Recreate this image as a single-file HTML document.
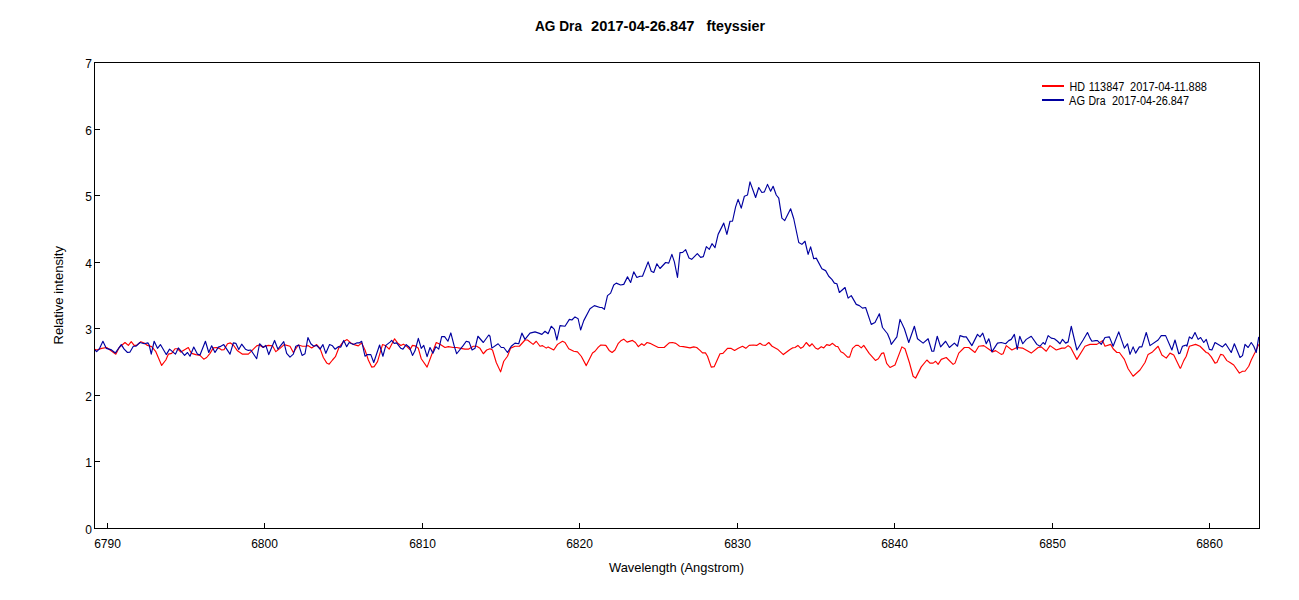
<!DOCTYPE html>
<html><head><meta charset="utf-8"><style>
html,body{margin:0;padding:0;background:#fff;}
svg{display:block;}
text{font-family:"Liberation Sans",sans-serif;font-size:12px;fill:#000;}
.ttl text{font-weight:bold;font-size:14px;}
.big{font-size:13.5px !important;}
</style></head><body>
<svg width="1299" height="600" viewBox="0 0 1299 600">
<rect width="1299" height="600" fill="#fff"/>
<g class="ttl">
<text x="535" y="31" textLength="47" lengthAdjust="spacingAndGlyphs">AG Dra</text>
<text x="591" y="31" textLength="103.5" lengthAdjust="spacingAndGlyphs">2017-04-26.847</text>
<text x="706.5" y="31" textLength="58.5" lengthAdjust="spacingAndGlyphs">fteyssier</text>
</g>
<g fill="none" stroke="#ff0000" stroke-width="1.15" stroke-linejoin="round"><path d="M95.00,349.17 L96.67,350.00 L101.67,348.33 L106.67,347.50 L110.00,350.00 L115.83,354.17 L119.17,347.50 L125.00,342.50 L128.33,345.42 L131.25,341.67 L134.17,345.42 L136.67,345.42 L140.83,341.67 L144.17,342.92 L147.50,345.42 L151.67,346.67 L155.83,351.67 L161.67,365.42 L165.83,360.00 L168.33,354.17 L171.67,353.33 L175.00,348.75 L177.50,348.75 L180.83,352.08 L184.17,350.00 L188.33,347.50 L190.00,350.83 L191.67,353.33 L195.83,354.58 L200.00,355.42 L203.75,359.17 L206.67,357.50 L210.00,353.33 L213.33,347.92 L216.67,347.50 L219.17,348.33 L221.67,350.00 L224.17,349.58 L227.50,343.75 L230.42,342.92 L233.33,345.00 L237.50,350.83 L242.50,354.17 L248.33,354.17 L251.67,350.83 L256.67,345.83 L259.17,345.00 L262.50,347.08 L268.33,345.42 L272.50,345.83 L275.83,351.67 L280.00,348.33 L284.17,344.58 L290.00,346.25 L293.33,352.50 L298.33,345.00 L302.50,346.25 L306.67,346.25 L307.92,345.42 L311.67,347.92 L314.17,346.25 L316.67,344.58 L320.00,348.33 L323.33,357.50 L326.67,362.92 L329.17,364.17 L332.50,360.00 L335.42,356.67 L339.17,347.08 L343.33,341.67 L347.08,339.58 L350.83,342.92 L354.17,344.58 L358.33,345.83 L361.67,342.92 L365.00,350.00 L368.33,360.00 L371.67,367.08 L374.17,366.67 L377.50,361.67 L382.50,344.58 L385.83,345.83 L389.17,349.17 L390.00,347.50 L394.58,338.75 L397.50,342.92 L400.83,345.42 L403.33,344.17 L406.67,346.25 L410.00,349.58 L412.50,345.42 L415.00,345.83 L418.33,348.33 L421.25,358.75 L427.08,367.08 L432.50,352.50 L436.25,342.50 L440.00,344.17 L445.00,347.50 L448.33,346.67 L453.33,347.50 L456.67,347.50 L460.83,348.33 L465.00,349.17 L468.33,349.17 L473.33,346.25 L476.67,346.25 L480.00,348.33 L483.33,353.75 L486.67,350.00 L490.00,348.75 L492.50,350.00 L496.25,362.50 L500.62,371.88 L503.75,361.25 L507.50,356.25 L510.62,348.12 L515.00,346.25 L519.38,346.25 L525.00,340.00 L527.50,340.00 L533.12,344.38 L536.25,341.25 L540.00,346.25 L542.50,345.62 L546.25,348.12 L548.12,346.88 L553.75,350.00 L557.50,344.38 L562.50,341.25 L565.00,342.50 L568.75,348.75 L573.75,351.25 L577.50,351.88 L581.25,356.25 L586.25,365.62 L590.00,357.92 L592.50,352.92 L595.00,351.25 L598.33,347.08 L600.83,345.00 L605.83,345.42 L609.17,350.42 L612.08,352.50 L615.00,350.00 L618.33,343.33 L621.25,340.42 L623.75,339.17 L627.08,342.08 L632.50,340.42 L635.42,342.50 L638.33,346.67 L641.67,343.75 L644.17,345.42 L647.08,342.50 L650.00,343.33 L653.33,345.00 L658.33,347.50 L664.17,347.50 L669.17,342.92 L672.50,342.50 L675.83,343.33 L679.58,346.25 L683.33,346.67 L690.00,347.92 L693.75,346.83 L696.67,347.50 L700.00,350.42 L702.50,352.92 L705.42,352.92 L707.50,356.25 L711.25,367.08 L714.17,366.67 L720.00,353.75 L722.92,353.33 L727.50,348.33 L730.83,348.33 L734.58,350.42 L738.33,348.33 L742.50,346.25 L745.83,348.33 L749.17,345.42 L753.33,345.00 L756.67,345.42 L760.00,343.33 L762.50,345.00 L765.42,345.42 L768.75,342.50 L772.08,346.25 L777.50,349.17 L783.33,354.58 L790.00,349.58 L792.50,347.92 L795.00,347.50 L797.92,345.42 L800.83,348.33 L803.33,346.67 L806.25,342.50 L809.58,346.25 L812.08,343.75 L815.42,347.92 L817.92,349.17 L821.25,346.67 L823.75,347.92 L826.67,344.58 L829.58,345.42 L832.50,343.33 L835.83,346.25 L837.92,346.67 L840.83,351.67 L843.75,353.33 L847.50,357.08 L849.58,357.08 L852.50,348.33 L855.83,345.42 L858.33,345.42 L861.25,347.92 L863.75,345.42 L869.17,353.33 L875.42,360.42 L878.33,358.75 L881.67,353.33 L883.75,352.92 L886.67,363.33 L890.00,367.50 L895.00,365.00 L901.88,346.88 L905.00,348.75 L909.38,362.50 L913.12,376.25 L915.62,378.12 L921.25,366.88 L926.88,360.00 L930.00,363.12 L933.12,363.12 L935.62,361.25 L938.12,364.38 L941.25,359.38 L946.25,357.50 L953.12,364.38 L955.00,363.12 L958.75,353.12 L964.38,347.50 L968.75,347.50 L975.00,352.50 L978.75,346.25 L983.75,345.62 L990.00,350.00 L992.50,351.88 L995.62,350.62 L1001.25,354.38 L1003.12,353.75 L1006.25,345.62 L1011.88,350.00 L1016.88,347.50 L1022.50,348.12 L1031.25,353.12 L1038.12,347.50 L1041.25,346.88 L1046.25,351.25 L1050.00,345.62 L1056.25,350.00 L1061.88,348.12 L1065.00,348.12 L1068.12,345.62 L1070.62,347.50 L1076.88,359.38 L1085.00,346.25 L1090.00,344.38 L1096.88,344.38 L1102.50,340.62 L1105.00,346.25 L1110.62,344.38 L1113.12,348.75 L1116.88,352.50 L1119.38,352.50 L1124.38,359.38 L1128.12,368.75 L1133.12,376.25 L1140.00,370.00 L1145.00,362.50 L1148.12,354.38 L1152.50,351.88 L1158.12,346.25 L1161.88,355.00 L1166.25,358.12 L1170.00,353.12 L1173.75,355.00 L1180.00,368.12 L1180.62,368.12 L1183.75,360.62 L1186.25,356.25 L1189.38,346.25 L1195.62,344.38 L1200.00,346.25 L1206.25,352.50 L1208.12,353.12 L1211.25,356.88 L1215.00,363.12 L1216.88,362.50 L1220.62,354.38 L1223.12,355.00 L1226.88,360.62 L1230.00,362.50 L1233.75,365.00 L1239.38,373.12 L1242.50,371.25 L1245.00,371.25 L1248.75,366.25 L1251.25,360.00 L1255.00,352.50 L1258.75,344.38"/></g>
<g fill="none" stroke="#0000a0" stroke-width="1.15" stroke-linejoin="round"><path d="M95.00,350.00 L96.67,351.67 L99.17,349.17 L102.92,341.25 L106.25,348.33 L110.83,349.58 L115.42,352.92 L121.25,344.58 L124.17,349.17 L127.50,352.50 L130.00,352.08 L133.33,346.25 L135.83,346.25 L140.00,342.50 L144.17,343.75 L147.92,342.92 L149.17,345.00 L151.25,354.17 L154.17,341.25 L157.50,348.33 L160.42,344.58 L166.25,354.58 L169.58,349.17 L175.42,354.17 L178.33,347.92 L184.58,355.42 L187.50,352.50 L190.00,356.25 L193.75,347.08 L197.50,354.17 L200.00,355.00 L205.42,341.25 L208.75,352.50 L211.67,345.83 L215.00,352.50 L218.33,347.08 L220.00,346.67 L223.75,344.58 L230.00,354.17 L233.33,342.92 L235.83,343.33 L238.75,349.58 L241.67,344.17 L245.42,349.17 L248.33,350.42 L250.83,350.00 L256.67,358.75 L259.58,343.75 L263.33,347.50 L265.83,345.42 L268.75,354.58 L274.58,340.42 L277.92,349.17 L283.75,341.67 L286.67,353.33 L290.00,357.08 L293.33,354.17 L295.83,346.25 L298.75,345.00 L302.08,355.42 L305.00,353.75 L307.92,337.50 L310.83,343.75 L313.75,346.25 L316.67,345.42 L320.00,349.17 L322.92,344.58 L325.83,353.33 L329.58,344.58 L332.50,345.83 L335.00,349.17 L338.33,346.67 L340.83,347.08 L343.75,340.42 L346.67,346.67 L349.17,342.50 L353.33,344.58 L356.67,342.92 L359.17,342.92 L361.67,341.25 L365.00,356.25 L367.50,354.58 L370.83,354.58 L373.75,362.50 L379.58,345.00 L382.92,356.25 L385.83,345.42 L390.00,342.08 L391.67,340.42 L394.17,343.33 L396.67,342.92 L400.83,348.33 L402.92,349.17 L406.25,344.58 L409.58,347.50 L412.50,355.42 L415.00,350.83 L418.33,338.33 L421.25,348.33 L423.75,345.42 L427.08,356.67 L430.00,347.50 L432.92,353.33 L435.83,346.67 L438.75,349.17 L441.67,336.67 L444.58,336.67 L447.92,341.25 L450.83,332.92 L454.17,345.83 L456.67,353.75 L463.33,345.42 L466.25,341.25 L469.17,342.08 L472.08,350.00 L475.00,348.33 L477.92,336.25 L483.33,342.50 L488.75,335.00 L490.00,336.25 L491.88,348.12 L498.12,343.75 L501.25,347.50 L503.75,347.50 L507.50,352.50 L511.25,346.25 L515.00,343.12 L518.75,343.75 L521.88,333.12 L525.00,339.38 L530.00,333.12 L535.00,331.88 L538.75,333.12 L541.88,334.38 L545.00,331.25 L548.12,333.75 L551.25,326.25 L554.38,329.38 L556.88,340.00 L560.00,325.62 L565.00,326.25 L569.38,319.38 L571.88,320.00 L575.00,316.88 L578.12,318.75 L580.62,330.00 L583.75,320.62 L590.00,308.75 L594.38,305.62 L600.00,307.50 L601.88,307.50 L604.38,309.38 L607.50,295.62 L610.62,293.12 L613.75,285.00 L616.25,283.12 L620.62,285.00 L623.75,284.38 L627.50,276.88 L630.62,282.50 L633.75,271.88 L636.88,277.50 L640.00,276.25 L642.50,276.25 L648.12,261.88 L651.25,271.25 L653.75,272.50 L656.88,263.75 L660.00,268.50 L665.62,262.50 L668.75,263.12 L671.88,254.38 L674.38,261.88 L677.50,277.50 L680.00,252.67 L682.67,252.33 L685.67,249.67 L689.00,258.00 L691.67,259.33 L697.33,253.67 L700.67,257.33 L703.33,256.67 L706.33,246.67 L709.33,249.33 L712.00,243.67 L715.00,247.67 L718.12,234.38 L723.75,223.12 L726.88,234.38 L730.00,221.25 L732.50,221.25 L735.62,206.88 L738.12,199.38 L741.25,208.12 L744.38,196.25 L747.50,195.00 L750.00,181.88 L755.62,197.50 L758.75,187.50 L761.88,192.50 L764.38,191.88 L767.50,184.38 L770.62,191.25 L773.12,186.25 L776.25,195.00 L778.75,198.12 L781.88,218.12 L784.75,220.62 L790.62,208.75 L793.75,218.75 L798.75,242.50 L801.88,244.38 L805.00,241.25 L808.12,254.38 L810.62,246.88 L813.75,258.75 L816.25,258.12 L821.88,268.75 L825.62,270.62 L828.75,276.25 L831.88,279.38 L834.38,283.12 L836.88,283.75 L839.38,292.50 L845.00,287.50 L848.12,298.12 L851.25,295.62 L856.25,304.38 L859.38,305.62 L862.50,308.12 L865.62,307.50 L871.25,324.38 L875.00,322.50 L879.38,313.75 L882.50,327.50 L887.50,333.75 L890.00,339.69 L891.25,344.38 L896.88,336.88 L900.00,319.38 L904.38,328.75 L908.75,342.50 L914.38,326.25 L917.50,338.75 L923.12,343.12 L928.12,338.75 L931.88,351.25 L933.75,351.25 L937.25,336.25 L940.62,346.88 L945.62,341.25 L949.38,347.50 L954.38,343.12 L957.50,346.25 L960.00,335.62 L963.75,336.88 L966.25,336.88 L971.88,345.62 L977.50,334.38 L980.00,336.88 L982.75,333.12 L986.25,343.75 L988.75,338.75 L990.00,342.50 L991.88,351.88 L997.50,343.12 L1001.25,342.50 L1005.62,343.75 L1008.75,340.62 L1011.25,339.38 L1014.38,334.38 L1017.25,349.38 L1019.75,336.25 L1022.75,343.75 L1026.25,339.38 L1031.25,336.25 L1036.88,344.38 L1040.00,346.25 L1043.12,342.50 L1045.00,344.38 L1048.12,335.62 L1051.25,338.12 L1054.38,338.75 L1057.50,341.25 L1060.00,343.75 L1062.50,339.38 L1065.62,343.12 L1068.12,341.88 L1071.25,326.25 L1076.88,350.00 L1083.12,340.00 L1087.50,332.50 L1090.00,338.12 L1091.88,341.25 L1095.62,340.62 L1097.50,340.62 L1101.25,344.38 L1105.00,337.50 L1109.38,336.88 L1113.12,346.25 L1118.75,331.88 L1124.38,348.12 L1127.50,343.75 L1130.00,354.38 L1133.12,346.88 L1135.62,353.12 L1139.38,346.88 L1141.88,346.88 L1146.25,332.50 L1150.00,345.62 L1158.12,340.00 L1161.25,335.62 L1165.62,335.62 L1171.88,350.00 L1175.00,340.00 L1178.75,353.75 L1180.00,353.12 L1182.50,346.25 L1184.38,345.62 L1186.25,345.00 L1186.88,346.25 L1189.38,336.88 L1191.88,338.75 L1195.00,332.50 L1198.12,339.38 L1200.62,337.50 L1203.75,342.50 L1206.25,339.38 L1209.38,349.38 L1211.88,350.00 L1215.00,342.50 L1222.50,346.88 L1225.62,343.75 L1231.25,352.50 L1234.38,343.75 L1240.00,357.50 L1242.50,355.62 L1245.00,344.38 L1248.12,347.50 L1251.25,342.50 L1253.75,346.25 L1256.25,352.50 L1258.75,336.88"/></g>
<g fill="none" stroke="#000" stroke-width="1.15" shape-rendering="crispEdges">
<rect x="94.5" y="62.5" width="1165" height="466"/>
<path d="M94,528.5 H100" /><path d="M94,461.5 H100" /><path d="M94,395.5 H100" /><path d="M94,328.5 H100" /><path d="M94,262.5 H100" /><path d="M94,195.5 H100" /><path d="M94,129.5 H100" /><path d="M94,62.5 H100" /><path d="M107.5,528 V523" /><path d="M264.5,528 V523" /><path d="M422.5,528 V523" /><path d="M579.5,528 V523" /><path d="M737.5,528 V523" /><path d="M894.5,528 V523" /><path d="M1052.5,528 V523" /><path d="M1209.5,528 V523" />
</g>
<text x="92" y="533.6" text-anchor="end">0</text><text x="92" y="466.6" text-anchor="end">1</text><text x="92" y="400.6" text-anchor="end">2</text><text x="92" y="333.6" text-anchor="end">3</text><text x="92" y="267.6" text-anchor="end">4</text><text x="92" y="200.6" text-anchor="end">5</text><text x="92" y="134.6" text-anchor="end">6</text><text x="92" y="67.6" text-anchor="end">7</text>
<text x="107.5" y="548" text-anchor="middle">6790</text><text x="264.5" y="548" text-anchor="middle">6800</text><text x="422.5" y="548" text-anchor="middle">6810</text><text x="579.5" y="548" text-anchor="middle">6820</text><text x="737.5" y="548" text-anchor="middle">6830</text><text x="894.5" y="548" text-anchor="middle">6840</text><text x="1052.5" y="548" text-anchor="middle">6850</text><text x="1209.5" y="548" text-anchor="middle">6860</text>
<text x="609" y="572" class="big" textLength="135" lengthAdjust="spacingAndGlyphs">Wavelength (Angstrom)</text>
<text transform="translate(62.5,344.5) rotate(-90)" class="big" textLength="98.5" lengthAdjust="spacingAndGlyphs">Relative intensity</text>
<g fill="none" stroke-width="2"><path d="M1042,86 H1064" stroke="#ff0000"/><path d="M1042,100 H1064" stroke="#0000a0"/></g>
<text x="1069.5" y="91" textLength="15.5" lengthAdjust="spacingAndGlyphs">HD</text>
<text x="1088.8" y="91" textLength="35.5" lengthAdjust="spacingAndGlyphs">113847</text>
<text x="1130" y="91" textLength="77" lengthAdjust="spacingAndGlyphs">2017-04-11.888</text>
<text x="1069" y="105" textLength="16" lengthAdjust="spacingAndGlyphs">AG</text>
<text x="1088.5" y="105" textLength="17" lengthAdjust="spacingAndGlyphs">Dra</text>
<text x="1112" y="105" textLength="77" lengthAdjust="spacingAndGlyphs">2017-04-26.847</text>
</svg>
</body></html>
